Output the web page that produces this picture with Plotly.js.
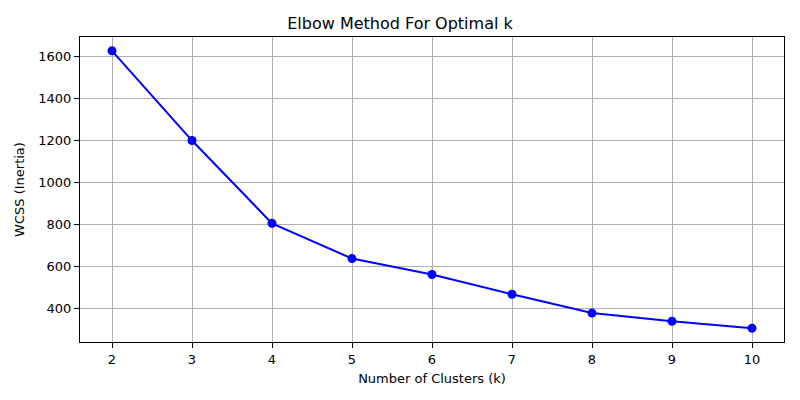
<!DOCTYPE html>
<html>
<head>
<meta charset="utf-8">
<script src="https://cdn.plot.ly/plotly-3.0.1.min.js"></script>
<style>html,body{margin:0;padding:0;background:#fff;}#chart{width:800px;height:400px;}</style>
</head>
<body>
<div id="chart"></div>
<script>
const kValues = [2, 3, 4, 5, 6, 7, 8, 9, 10];
const wcss = [1628, 1200, 805, 637, 561, 467, 377, 338, 305];
const xTicks = [2, 3, 4, 5, 6, 7, 8, 9, 10];
const yTicks = [400, 600, 800, 1000, 1200, 1400, 1600];

const trace = {
  x: kValues,
  y: wcss,
  type: 'scatter',
  mode: 'lines+markers',
  line: {color: '#0000ff', width: 2},
  marker: {color: '#0000ff', size: 9},
  showlegend: false
};

const axisCommon = {
  showline: true, linecolor: '#000', linewidth: 1, mirror: true,
  showgrid: true, gridcolor: '#b0b0b0', gridwidth: 1,
  ticks: 'outside', ticklen: 5, tickcolor: '#000', tickwidth: 1,
  zeroline: false,
  tickfont: {family: 'DejaVu Sans', size: 13, color: '#000'}
};

const layout = {
  width: 800, height: 400,
  margin: {l: 80, r: 16, t: 37, b: 58},
  paper_bgcolor: '#fff', plot_bgcolor: '#fff',
  font: {family: 'DejaVu Sans', color: '#000'},
  title: {text: 'Elbow Method For Optimal k', font: {family: 'DejaVu Sans', size: 16, color: '#000'}, x: 0.5, xanchor: 'center', y: 0.942, yanchor: 'middle'},
  xaxis: Object.assign({}, axisCommon, {
    range: [1.6, 10.4], tickvals: xTicks, ticktext: xTicks.map(String),
    title: {text: 'Number of Clusters (k)', font: {family: 'DejaVu Sans', size: 13, color: '#000'}, standoff: 8}
  }),
  yaxis: Object.assign({}, axisCommon, {
    range: [239, 1694], tickvals: yTicks, ticktext: yTicks.map(String),
    title: {text: 'WCSS (Inertia)', font: {family: 'DejaVu Sans', size: 13, color: '#000'}, standoff: 10}
  })
};

Plotly.newPlot('chart', [trace], layout, {displayModeBar: false, staticPlot: true});
</script>
</body>
</html>
